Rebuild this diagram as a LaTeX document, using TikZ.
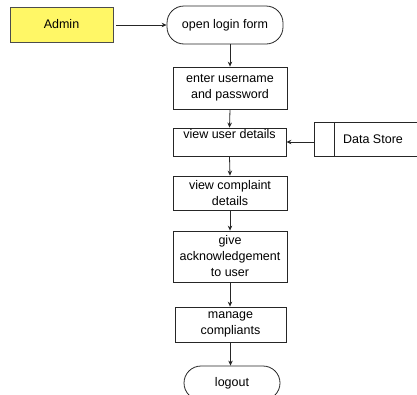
\documentclass[tikz,border=0pt]{standalone}
\usepackage{fontspec}
\setmainfont{Liberation Sans}
\usetikzlibrary{arrows.meta}
\begin{document}
\begin{tikzpicture}[x=1pt,y=-1pt,
  font=\fontsize{12.5}{16}\selectfont,
  every node/.style={inner sep=0pt,align=center,line width=0.8pt},
  procbox/.style={draw=black!85,rectangle},
  terminal/.style={draw=black!85,rectangle,rounded corners=17pt},
  actor/.style={draw=black!70,fill=yellow!60,rectangle},
  flow/.style={draw=black!85,line width=0.8pt,-{Stealth[length=5pt,width=4.5pt]}}]
\useasboundingbox (0,0) rectangle (417,394);

% external entity
\node[actor,minimum width=103pt,minimum height=35pt] (admin) at (61.5,24.5) {Admin};

% process chain
\node[terminal,minimum width=116pt,minimum height=38pt] (open) at (225,25) {open login form};
\node[procbox,minimum width=114pt,minimum height=42pt] (enter) at (230,88) {enter username\\and password};
\node[procbox,minimum width=113pt,minimum height=28pt] (user) at (229.5,142) {};
\node[anchor=north] (usertxt) at (229.5,129) {view user details};
\node[procbox,minimum width=114pt,minimum height=34pt] (compl) at (230,193) {view complaint\\details};
\node[procbox,minimum width=114pt,minimum height=51pt] (ack) at (230,256.5) {give\\acknowledgement\\to user};
\node[procbox,minimum width=111pt,minimum height=35pt] (manage) at (230.5,324.5) {manage\\compliants};
\node[terminal,minimum width=96pt,minimum height=34pt] (logout) at (232,383) {logout};

% data store
\coordinate (dsL) at (314,142);
\draw[black!85,line width=0.8pt] (425,122) -- (314,122) -- (314,156) -- (425,156);
\draw[black!85,line width=0.8pt] (334,122) -- (334,156);
\node (ds) at (373,139) {Data Store};

% connectors
\coordinate (adminOut) at (116,25);
\draw[flow] (adminOut) -- (adminOut -| open.west);
\draw[flow] (open.south -| enter.north) -- (enter.north);
\draw[flow] (enter.south) -- (user.north);
\draw[flow] (dsL) -- (dsL -| user.east);
\draw[flow] (user.south) -- (compl.north);
\draw[flow] (compl.south) -- (ack.north);
\draw[flow] (ack.south) -- (ack.south |- manage.north);
\draw[flow] (manage.south) -- (manage.south |- logout.north);
\end{tikzpicture}
\end{document}
